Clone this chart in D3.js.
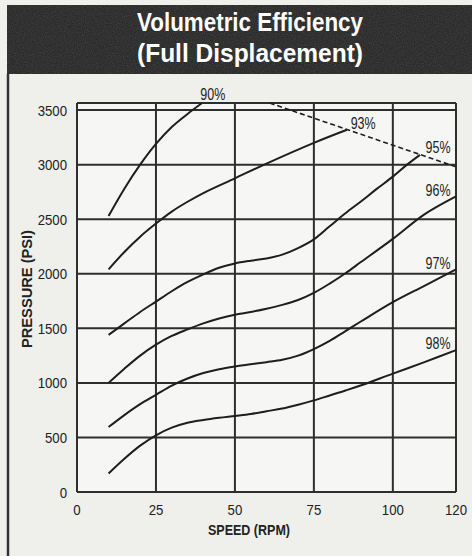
<!DOCTYPE html>
<html>
<head>
<meta charset="utf-8">
<script src="https://cdn.jsdelivr.net/npm/d3@7"></script>
<style>
  body { margin: 0; background: #efefec; }
  svg { display: block; }
  .tick-lbl { font-family: "Liberation Sans", Arial, sans-serif; font-size: 15px; fill: #222; }
  .axis-title { font-family: "Liberation Sans", Arial, sans-serif; font-size: 14px; font-weight: bold; fill: #222; }
  .curve-lbl { font-family: "Liberation Sans", Arial, sans-serif; font-size: 16px; fill: #222; }
</style>
</head>
<body>
<div id="chart"></div>
<script>
// tick values
var xTicks = [0, 25, 50, 75, 100, 120];
var yTicks = [0, 500, 1000, 1500, 2000, 2500, 3000, 3500];

// efficiency curves [speed, pressure]
var eff90 = [[10,2530],[15,2780],[20,3000],[25,3190],[30,3345],[35,3465],[39.6,3565]];
var eff93 = [[10,2040],[15,2200],[20,2340],[25,2460],[30,2570],[35,2660],[40,2740],[50,2875],[60,3010],[75,3200],[85.5,3320]];
var eff95 = [[10,1440],[15,1545],[20,1650],[25,1745],[30,1840],[35,1925],[40,1995],[45,2055],[50,2095],[55,2120],[60,2140],[65,2175],[70,2235],[75,2315],[80,2435],[85,2555],[90,2665],[95,2780],[100,2890],[104.5,3000],[108.6,3090]];
var eff96 = [[10,1000],[15,1130],[20,1250],[25,1350],[30,1430],[35,1490],[40,1545],[45,1590],[50,1625],[55,1650],[60,1680],[65,1715],[70,1760],[75,1825],[80,1910],[85,2005],[90,2110],[100,2320],[110,2545],[120,2710]];
var eff97 = [[10,595],[15,705],[20,805],[25,890],[30,975],[35,1040],[40,1090],[45,1125],[50,1150],[55,1170],[60,1190],[65,1212],[70,1250],[75,1310],[80,1385],[85,1475],[90,1565],[100,1740],[110,1890],[120,2040]];
var eff98 = [[10,170],[15,305],[20,425],[25,520],[30,590],[35,635],[40,660],[45,680],[50,697],[55,715],[60,740],[65,765],[70,800],[75,840],[80,885],[85,930],[90,978],[100,1085],[110,1190],[120,1300]];
var maxLine = [[61,3565],[120,2980]];

var curveNames = ["90%", "93%", "95%", "96%", "97%", "98%"];
// label anchor points [speed, pressure]
var labelPos = [[43,3593],[90.6,3327],[114.3,3107],[114.3,2713],[114.3,2044],[114.3,1311]];

var W = 472, H = 556;
var svg = d3.select("#chart").append("svg")
    .attr("width", W).attr("height", H);

var defs = svg.append("defs");
var grain = defs.append("filter").attr("id", "grain");
grain.append("feTurbulence").attr("type", "fractalNoise").attr("baseFrequency", 0.9).attr("numOctaves", 2).attr("seed", 3);
grain.append("feColorMatrix").attr("type", "matrix")
    .attr("values", "0 0 0 0 1  0 0 0 0 1  0 0 0 0 1  0 0 0 0.35 -0.1");

// panel
svg.append("rect").attr("x", 0).attr("y", 0).attr("width", W).attr("height", H).attr("fill", "#efefec");

// title band
svg.append("rect")
    .attr("x", 7).attr("y", 5).attr("width", W - 7).attr("height", 69)
    .attr("fill", "#2a2a2a");
svg.append("rect")
    .attr("x", 7).attr("y", 5).attr("width", W - 7).attr("height", 69)
    .attr("filter", "url(#grain)")
    .attr("opacity", 0.5);

svg.append("line")
    .attr("x1", 8).attr("x2", 8).attr("y1", 74).attr("y2", H)
    .attr("stroke", "#333").attr("stroke-width", 2.5);

var titleLines = ["Volumetric Efficiency", "(Full Displacement)"];
svg.selectAll(".title").data(titleLines).enter().append("text")
    .attr("x", 250)
    .attr("y", function(d, i) { return 31 + i * 31; })
    .attr("text-anchor", "middle")
    .attr("textLength", 226)
    .attr("lengthAdjust", "spacingAndGlyphs")
    .style("font-family", '"Liberation Sans", Arial, sans-serif')
    .style("font-weight", "bold")
    .style("font-size", "25px")
    .attr("fill", "#fff")
    .text(function(d) { return d; });

var x = d3.scaleLinear().domain([0, 120]).range([77, 456]);
var y = d3.scaleLinear().domain([0, 3565]).range([492, 103]);

var g = svg.append("g");

g.append("rect")
    .attr("x", x(0)).attr("y", y(3565))
    .attr("width", x(120) - x(0)).attr("height", y(0) - y(3565))
    .attr("fill", "#f6f6f4");

// grid
g.selectAll(".hgrid").data(yTicks.concat([3565])).enter().append("line")
    .attr("x1", x(0)).attr("x2", x(120))
    .attr("y1", function(d) { return y(d); })
    .attr("y2", function(d) { return y(d); })
    .attr("stroke", "#2e2e2e").attr("stroke-width", 2);

g.selectAll(".vgrid").data(xTicks).enter().append("line")
    .attr("y1", y(0)).attr("y2", y(3565))
    .attr("x1", function(d) { return x(d); })
    .attr("x2", function(d) { return x(d); })
    .attr("stroke", "#2e2e2e").attr("stroke-width", 2);

// tick labels (squeezed a bit, the print uses a narrow face)
g.selectAll(".ylbl").data(yTicks).enter().append("text")
    .attr("class", "tick-lbl")
    .attr("transform", function(d) { return "translate(67," + (y(d) + 5.5) + ") scale(0.88,1)"; })
    .attr("text-anchor", "end")
    .text(function(d) { return d; });

g.selectAll(".xlbl").data(xTicks).enter().append("text")
    .attr("class", "tick-lbl")
    .attr("transform", function(d) { return "translate(" + x(d) + ",515) scale(0.88,1)"; })
    .attr("text-anchor", "middle")
    .text(function(d) { return d; });

svg.append("text").attr("class", "axis-title")
    .attr("x", 249).attr("y", 535)
    .attr("text-anchor", "middle")
    .attr("textLength", 82).attr("lengthAdjust", "spacingAndGlyphs")
    .text("SPEED (RPM)");

svg.append("text").attr("class", "axis-title")
    .attr("transform", "translate(32,289) rotate(-90)")
    .attr("text-anchor", "middle")
    .attr("textLength", 118).attr("lengthAdjust", "spacingAndGlyphs")
    .text("PRESSURE (PSI)");

// curves
var line = d3.line()
    .curve(d3.curveCatmullRom.alpha(0.5))
    .x(function(d) { return x(d[0]); })
    .y(function(d) { return y(d[1]); });

var series = [eff90, eff93, eff95, eff96, eff97, eff98];
g.selectAll(".eff").data(series).enter().append("path")
    .attr("d", line)
    .attr("fill", "none")
    .attr("stroke", "#1e1e1e")
    .attr("stroke-width", 2);

g.append("path")
    .datum(maxLine)
    .attr("d", d3.line().x(function(d) { return x(d[0]); }).y(function(d) { return y(d[1]); }))
    .attr("fill", "none")
    .attr("stroke", "#1e1e1e")
    .attr("stroke-width", 1.6)
    .attr("stroke-dasharray", "5,3");

g.selectAll(".clbl").data(curveNames).enter().append("text")
    .attr("class", "curve-lbl")
    .attr("x", function(d, i) { return x(labelPos[i][0]); })
    .attr("y", function(d, i) { return y(labelPos[i][1]); })
    .attr("text-anchor", "middle")
    .attr("textLength", 25).attr("lengthAdjust", "spacingAndGlyphs")
    .text(function(d) { return d; });
</script>
</body>
</html>
